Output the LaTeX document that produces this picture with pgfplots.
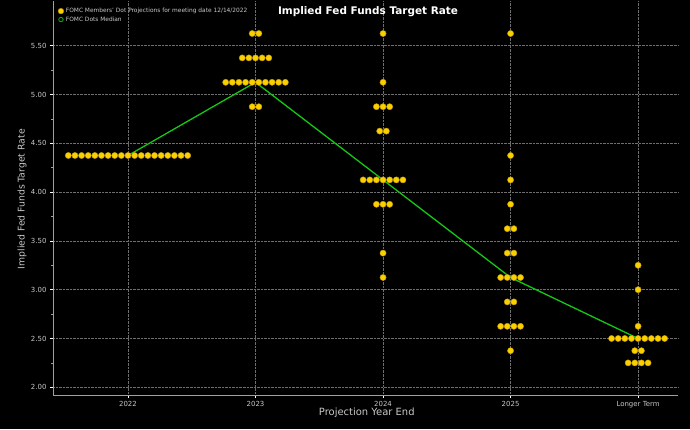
\documentclass[border=0pt]{standalone}
\usepackage{pgfplots}
\pgfplotsset{compat=1.18}
\usepackage{fontspec}
\setmainfont{DejaVu Sans}
\definecolor{dotyellow}{RGB}{250,208,0}
\definecolor{dotedge}{RGB}{190,150,0}
\definecolor{medgreen}{RGB}{20,200,20}
\definecolor{txtgray}{RGB}{200,200,200}
\definecolor{gridgray}{RGB}{110,110,110}
\definecolor{axgray}{RGB}{160,160,160}

\begin{document}
\begin{tikzpicture}[x=1bp, y=1bp]
\fill[black] (0,0) rectangle (690,429);
\useasboundingbox (0,0) rectangle (690,429);
\begin{axis}[
  at={(53bp,34bp)}, anchor=south west,
  scale only axis, width=625bp, height=394bp,
  xmin=-0.588, xmax=4.313,
  ymin=1.921, ymax=5.958,
  axis x line*=bottom, axis y line*=left,
  axis line style={axgray, line width=0.8pt, -},
  xtick={0,1,2,3,4},
  xticklabels={2022,2023,2024,2025,Longer Term},
  ytick={2,2.5,3,3.5,4,4.5,5,5.5},
  minor y tick num=1,
  tick align=outside,
  major tick length=3bp, minor tick length=2bp,
  tick style={white, line width=0.6pt},
  minor tick style={axgray, line width=0.4pt},
  yticklabel style={/pgf/number format/.cd, fixed, fixed zerofill, precision=2},
  /pgf/number format/assume math mode=true,
  tick label style={font=\fontsize{7}{8}\selectfont, txtgray},
  xmajorgrids, ymajorgrids,
  major grid style={densely dotted, gridgray, line width=0.6pt},
  ylabel={Implied Fed Funds Target Rate},
  ylabel style={font=\fontsize{9.3}{11}\selectfont, txtgray, at={(axis description cs:-0.0496,0.497)}, anchor=center},
  xlabel={Projection Year End},
  xlabel style={font=\fontsize{10}{11}\selectfont, txtgray, at={(axis description cs:0.502,-0.046)}, anchor=center},
  legend style={at={(0.006,0.99)}, anchor=north west, draw=none, fill=none,
    font=\fontsize{5.9}{7}\selectfont, text=txtgray, inner sep=1pt,
    row sep=-1.5pt, legend cell align=left},
  clip=false,
]
\addplot[only marks, mark=*, mark size=3.1bp,
  mark options={fill=dotyellow, draw=dotedge, line width=0.4pt},
  legend image code/.code={\filldraw[fill=dotyellow, draw=dotedge, line width=0.4pt] (0,0) circle (2.8bp);}]
  table {
x y
-0.468 4.375
-0.416 4.375
-0.364 4.375
-0.312 4.375
-0.260 4.375
-0.208 4.375
-0.156 4.375
-0.104 4.375
-0.052 4.375
0.000 4.375
0.052 4.375
0.104 4.375
0.156 4.375
0.208 4.375
0.260 4.375
0.312 4.375
0.364 4.375
0.416 4.375
0.468 4.375
0.974 5.625
1.026 5.625
0.896 5.375
0.948 5.375
1.000 5.375
1.052 5.375
1.104 5.375
0.766 5.125
0.818 5.125
0.870 5.125
0.922 5.125
0.974 5.125
1.026 5.125
1.078 5.125
1.130 5.125
1.182 5.125
1.234 5.125
0.974 4.875
1.026 4.875
2.000 5.625
2.000 5.125
1.948 4.875
2.000 4.875
2.052 4.875
1.974 4.625
2.026 4.625
1.844 4.125
1.896 4.125
1.948 4.125
2.000 4.125
2.052 4.125
2.104 4.125
2.156 4.125
1.948 3.875
2.000 3.875
2.052 3.875
2.000 3.375
2.000 3.125
3.000 5.625
3.000 4.375
3.000 4.125
3.000 3.875
2.974 3.625
3.026 3.625
2.974 3.375
3.026 3.375
2.922 3.125
2.974 3.125
3.026 3.125
3.078 3.125
2.974 2.875
3.026 2.875
2.922 2.625
2.974 2.625
3.026 2.625
3.078 2.625
3.000 2.375
4.000 3.250
4.000 3.000
4.000 2.625
3.792 2.500
3.844 2.500
3.896 2.500
3.948 2.500
4.000 2.500
4.052 2.500
4.104 2.500
4.156 2.500
4.208 2.500
3.974 2.375
4.026 2.375
3.922 2.250
3.974 2.250
4.026 2.250
4.078 2.250
};
\addlegendentry{FOMC Members' Dot Projections for meeting date 12/14/2022}
\addplot[medgreen, line width=1.3pt, mark=none,
  legend image code/.code={\draw[medgreen!80!black, line width=0.9pt] (0,0) circle (2.2bp);}]
  coordinates {(0,4.375) (1,5.125) (2,4.125) (3,3.125) (4,2.5)};
\addlegendentry{FOMC Dots Median}
\node[font=\bfseries\fontsize{10.5}{12}\selectfont, white, anchor=center]
  at (rel axis cs:0.504,0.972) {Implied Fed Funds Target Rate};
\end{axis}
\end{tikzpicture}
\end{document}
